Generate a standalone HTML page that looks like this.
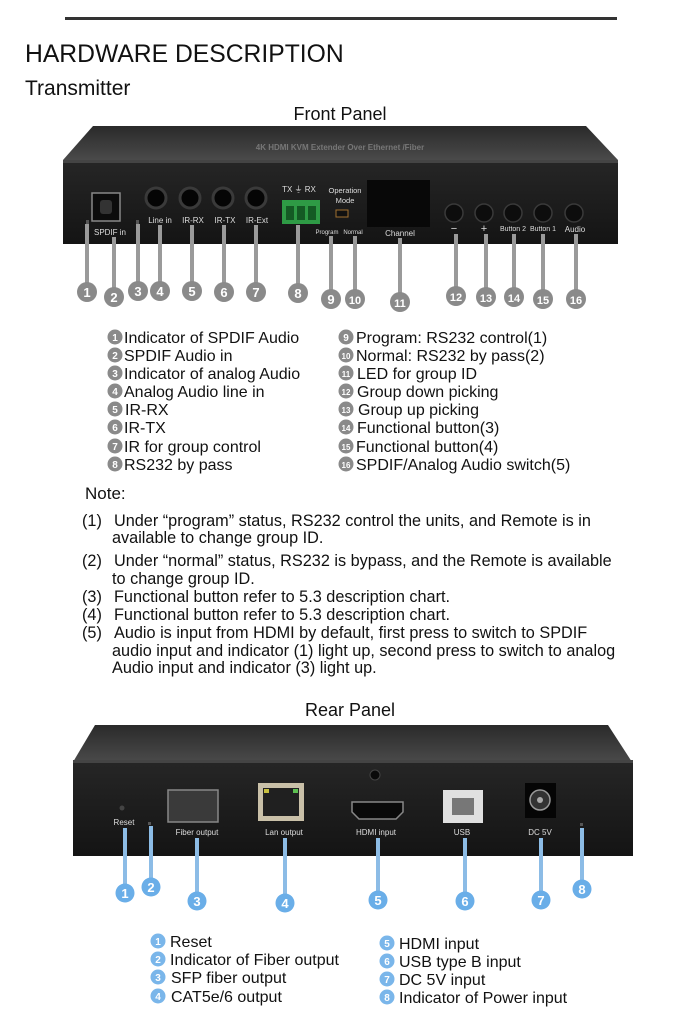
<!DOCTYPE html>
<html><head><meta charset="utf-8"><style>
html,body{margin:0;padding:0;background:#fff;}
svg{display:block;font-family:"Liberation Sans",Arial,sans-serif;}
</style></head><body>
<svg width="680" height="1030" viewBox="0 0 680 1030" xmlns="http://www.w3.org/2000/svg">
<defs>
<linearGradient id="top" x1="0" y1="0" x2="0" y2="1"><stop offset="0" stop-color="#2a2a2a"/><stop offset="1" stop-color="#4a4a4a"/></linearGradient>
<linearGradient id="face" x1="0" y1="0" x2="0" y2="1"><stop offset="0" stop-color="#262626"/><stop offset="1" stop-color="#141414"/></linearGradient>
</defs>
<rect x="65" y="17" width="552" height="3" fill="#333"/>
<text x="25" y="62" font-size="24.7" fill="#111">HARDWARE DESCRIPTION</text>
<text x="25" y="95" font-size="21" fill="#111">Transmitter</text>
<text x="340" y="120" font-size="18" fill="#111" text-anchor="middle">Front Panel</text>

<!-- front device -->
<polygon points="93,126 586,126 618,160 63,160" fill="url(#top)"/>
<text x="340" y="150" font-size="8" fill="#777" text-anchor="middle" font-weight="bold">4K HDMI KVM Extender Over Ethernet /Fiber</text>
<rect x="63" y="160" width="555" height="84" fill="url(#face)"/>
<rect x="63" y="160" width="555" height="3" fill="#444"/>
<rect x="86" y="220" width="3" height="4" fill="#555"/>
<rect x="92" y="193" width="28" height="28" fill="#0c0c0c" stroke="#888" stroke-width="1.5"/>
<rect x="100" y="200" width="12" height="14" rx="3" fill="#333"/>
<text x="110" y="235" font-size="8" fill="#ddd" text-anchor="middle">SPDIF in</text>
<rect x="136" y="220" width="3" height="4" fill="#555"/>
<g fill="#050505" stroke="#3a3a3a" stroke-width="3">
<circle cx="156" cy="198" r="10"/><circle cx="190" cy="198" r="10"/><circle cx="223" cy="198" r="10"/><circle cx="256" cy="198" r="10"/>
</g>
<rect x="367" y="180" width="63" height="47" fill="#080808"/>
<g font-size="8" fill="#ddd" text-anchor="middle">
<text x="160" y="223">Line in</text><text x="193" y="223">IR-RX</text><text x="225" y="223">IR-TX</text><text x="257" y="223">IR-Ext</text>
<text x="299" y="192">TX ⏚ RX</text>
<text x="345" y="193" font-size="7.5">Operation</text><text x="345" y="203" font-size="7.5">Mode</text>
<text x="327" y="234" font-size="6">Program</text><text x="353" y="234" font-size="6">Normal</text>
<text x="400" y="236">Channel</text>
<text x="454" y="232" font-size="11">−</text><text x="484" y="232" font-size="11">+</text>
<text x="513" y="231" font-size="7">Button 2</text><text x="543" y="231" font-size="7">Button 1</text><text x="575" y="232">Audio</text>
</g>
<rect x="282" y="200" width="38" height="24" fill="#2e9a45"/>
<g fill="#145a24"><rect x="286" y="206" width="8" height="14"/><rect x="297" y="206" width="8" height="14"/><rect x="308" y="206" width="8" height="14"/></g>
<rect x="336" y="210" width="12" height="7" fill="#111" stroke="#a07030" stroke-width="1"/>
<g fill="#0d0d0d" stroke="#3a3a3a" stroke-width="1.5">
<circle cx="454" cy="213" r="9"/><circle cx="484" cy="213" r="9"/><circle cx="513" cy="213" r="9"/><circle cx="543" cy="213" r="9"/><circle cx="574" cy="213" r="9"/>
</g>
<g stroke="#9a9a9a" stroke-width="4">
<line x1="87" y1="224" x2="87" y2="290"/><line x1="114" y1="237" x2="114" y2="295"/><line x1="138" y1="224" x2="138" y2="290"/>
<line x1="160" y1="225" x2="160" y2="290"/><line x1="192" y1="225" x2="192" y2="290"/><line x1="224" y1="225" x2="224" y2="290"/><line x1="256" y1="225" x2="256" y2="290"/>
<line x1="298" y1="225" x2="298" y2="290"/><line x1="331" y1="236" x2="331" y2="297"/><line x1="355" y1="236" x2="355" y2="297"/>
<line x1="400" y1="238" x2="400" y2="300"/><line x1="456" y1="234" x2="456" y2="295"/><line x1="486" y1="234" x2="486" y2="295"/>
<line x1="514" y1="234" x2="514" y2="295"/><line x1="543" y1="234" x2="543" y2="297"/><line x1="576" y1="234" x2="576" y2="297"/>
</g>
<g fill="#8a8a8a">
<circle cx="87" cy="292" r="10"/><circle cx="114" cy="297" r="10"/><circle cx="138" cy="291" r="10"/><circle cx="160" cy="291" r="10"/>
<circle cx="192" cy="291" r="10"/><circle cx="224" cy="292" r="10"/><circle cx="256" cy="292" r="10"/><circle cx="298" cy="293" r="10"/>
<circle cx="331" cy="299" r="10"/><circle cx="355" cy="299" r="10"/><circle cx="400" cy="302" r="10"/><circle cx="456" cy="296" r="10"/>
<circle cx="486" cy="297" r="10"/><circle cx="514" cy="297" r="10"/><circle cx="543" cy="299" r="10"/><circle cx="576" cy="299" r="10"/>
</g>
<g fill="#fff" font-size="13" font-weight="bold" text-anchor="middle">
<text x="87" y="297">1</text><text x="114" y="302">2</text><text x="138" y="296">3</text><text x="160" y="296">4</text>
<text x="192" y="296">5</text><text x="224" y="297">6</text><text x="256" y="297">7</text><text x="298" y="298">8</text>
<text x="331" y="304">9</text><text x="355" y="304" font-size="11">10</text><text x="400" y="307" font-size="11">11</text><text x="456" y="301" font-size="11">12</text>
<text x="486" y="302" font-size="11">13</text><text x="514" y="302" font-size="11">14</text><text x="543" y="304" font-size="11">15</text><text x="576" y="304" font-size="11">16</text>
</g>

<g fill="#8a8a8a">
<circle cx="115" cy="337" r="7.5"/><circle cx="115" cy="355" r="7.5"/><circle cx="115" cy="373" r="7.5"/><circle cx="115" cy="391" r="7.5"/>
<circle cx="115" cy="409" r="7.5"/><circle cx="115" cy="427" r="7.5"/><circle cx="115" cy="446" r="7.5"/><circle cx="115" cy="464" r="7.5"/>
<circle cx="346" cy="337" r="7.5"/><circle cx="346" cy="355" r="7.5"/><circle cx="346" cy="373" r="7.5"/><circle cx="346" cy="391" r="7.5"/>
<circle cx="346" cy="409" r="7.5"/><circle cx="346" cy="427" r="7.5"/><circle cx="346" cy="446" r="7.5"/><circle cx="346" cy="464" r="7.5"/>
</g>
<g fill="#fff" font-size="10" font-weight="bold" text-anchor="middle">
<text x="115" y="341">1</text><text x="115" y="359">2</text><text x="115" y="377">3</text><text x="115" y="395">4</text>
<text x="115" y="413">5</text><text x="115" y="431">6</text><text x="115" y="450">7</text><text x="115" y="468">8</text>
<text x="346" y="341">9</text><text x="346" y="359" font-size="8">10</text><text x="346" y="377" font-size="8">11</text><text x="346" y="395" font-size="8">12</text>
<text x="346" y="413" font-size="8">13</text><text x="346" y="431" font-size="8">14</text><text x="346" y="450" font-size="8">15</text><text x="346" y="468" font-size="8">16</text>
</g>
<g fill="#111" font-size="16">
<text x="124" y="343">Indicator of SPDIF Audio</text><text x="124" y="361">SPDIF Audio in</text><text x="124" y="379">Indicator of analog Audio</text>
<text x="124" y="397">Analog Audio line in</text><text x="125" y="415">IR-RX</text><text x="124" y="433">IR-TX</text>
<text x="124" y="452">IR for group control</text><text x="124" y="470">RS232 by pass</text>
<text x="356" y="343">Program: RS232 control(1)</text><text x="356" y="361">Normal: RS232 by pass(2)</text><text x="357" y="379">LED for group ID</text>
<text x="357" y="397">Group down picking</text><text x="358" y="415">Group up picking</text><text x="357" y="433">Functional button(3)</text>
<text x="356" y="452">Functional button(4)</text><text x="356" y="470">SPDIF/Analog Audio switch(5)</text>
</g>

<g fill="#111" font-size="16.25">
<text x="85" y="499" font-size="17">Note:</text>
<text x="82" y="526">(1)</text><text x="114" y="526">Under “program” status, RS232 control the units, and Remote is in</text>
<text x="112" y="543">available to change group ID.</text>
<text x="82" y="566">(2)</text><text x="114" y="566">Under “normal” status, RS232 is bypass, and the Remote is available</text>
<text x="112" y="584">to change group ID.</text>
<text x="82" y="602">(3)</text><text x="114" y="602">Functional button refer to 5.3 description chart.</text>
<text x="82" y="620">(4)</text><text x="114" y="620">Functional button refer to 5.3 description chart.</text>
<text x="82" y="638">(5)</text><text x="114" y="638">Audio is input from HDMI by default, first press to switch to SPDIF</text>
<text x="112" y="656">audio input and indicator (1) light up, second press to switch to analog</text>
<text x="112" y="673">Audio input and indicator (3) light up.</text>
</g>

<text x="350" y="716" font-size="18" fill="#111" text-anchor="middle">Rear Panel</text>
<polygon points="95,725 608,725 632,762 73,762" fill="url(#top)"/>
<rect x="73" y="760" width="560" height="96" fill="url(#face)"/>
<rect x="73" y="760" width="560" height="3" fill="#444"/>
<circle cx="122" cy="808" r="2.5" fill="#444"/>
<rect x="148" y="822" width="3" height="3" fill="#555"/>
<rect x="168" y="790" width="50" height="32" fill="#3a3a3a" stroke="#888" stroke-width="1.5"/>
<rect x="258" y="783" width="46" height="38" fill="#c9c0a8"/>
<rect x="263" y="788" width="36" height="28" fill="#202020"/>
<rect x="264" y="789" width="5" height="4" fill="#c8c040"/><rect x="293" y="789" width="5" height="4" fill="#5cbf50"/>
<circle cx="375" cy="775" r="5" fill="#0a0a0a" stroke="#444"/>
<path d="M352,802 H403 V812 L396,819 H359 L352,812 Z" fill="#0a0a0a" stroke="#888" stroke-width="1.5"/>
<rect x="443" y="790" width="40" height="33" fill="#e0e0e0"/>
<rect x="452" y="798" width="22" height="17" fill="#777"/>
<rect x="525" y="783" width="31" height="35" fill="#050505"/>
<circle cx="540" cy="800" r="10" fill="#333" stroke="#999" stroke-width="1.5"/>
<circle cx="540" cy="800" r="3" fill="#aaa"/>
<rect x="580" y="823" width="3" height="3" fill="#555"/>
<g font-size="8" fill="#ddd" text-anchor="middle">
<text x="124" y="825">Reset</text><text x="197" y="835">Fiber output</text><text x="284" y="835">Lan output</text>
<text x="376" y="835">HDMI input</text><text x="462" y="835">USB</text><text x="540" y="835">DC 5V</text>
</g>
<g stroke="#8cbce6" stroke-width="4">
<line x1="125" y1="828" x2="125" y2="890"/><line x1="151" y1="826" x2="151" y2="884"/><line x1="197" y1="838" x2="197" y2="898"/>
<line x1="285" y1="838" x2="285" y2="900"/><line x1="378" y1="838" x2="378" y2="897"/><line x1="465" y1="838" x2="465" y2="898"/>
<line x1="541" y1="838" x2="541" y2="897"/><line x1="582" y1="828" x2="582" y2="886"/>
</g>
<g fill="#6aaee8">
<circle cx="125" cy="893" r="9.5"/><circle cx="151" cy="887" r="9.5"/><circle cx="197" cy="901" r="9.5"/><circle cx="285" cy="903" r="9.5"/>
<circle cx="378" cy="900" r="9.5"/><circle cx="465" cy="901" r="9.5"/><circle cx="541" cy="900" r="9.5"/><circle cx="582" cy="889" r="9.5"/>
</g>
<g fill="#fff" font-size="13" font-weight="bold" text-anchor="middle">
<text x="125" y="898">1</text><text x="151" y="892">2</text><text x="197" y="906">3</text><text x="285" y="908">4</text>
<text x="378" y="905">5</text><text x="465" y="906">6</text><text x="541" y="905">7</text><text x="582" y="894">8</text>
</g>
<g fill="#7ab6ea">
<circle cx="158" cy="941" r="7.5"/><circle cx="158" cy="959" r="7.5"/><circle cx="158" cy="977" r="7.5"/><circle cx="158" cy="996" r="7.5"/>
<circle cx="387" cy="943" r="7.5"/><circle cx="387" cy="961" r="7.5"/><circle cx="387" cy="979" r="7.5"/><circle cx="387" cy="997" r="7.5"/>
</g>
<g fill="#fff" font-size="10" font-weight="bold" text-anchor="middle">
<text x="158" y="945">1</text><text x="158" y="963">2</text><text x="158" y="981">3</text><text x="158" y="1000">4</text>
<text x="387" y="947">5</text><text x="387" y="965">6</text><text x="387" y="983">7</text><text x="387" y="1001">8</text>
</g>
<g fill="#111" font-size="16">
<text x="170" y="947">Reset</text><text x="170" y="965">Indicator of Fiber output</text><text x="171" y="983">SFP fiber output</text><text x="171" y="1002">CAT5e/6 output</text>
<text x="399" y="949">HDMI input</text><text x="399" y="967">USB type B input</text><text x="399" y="985">DC 5V input</text><text x="399" y="1003">Indicator of Power input</text>
</g>
</svg>
</body></html>
